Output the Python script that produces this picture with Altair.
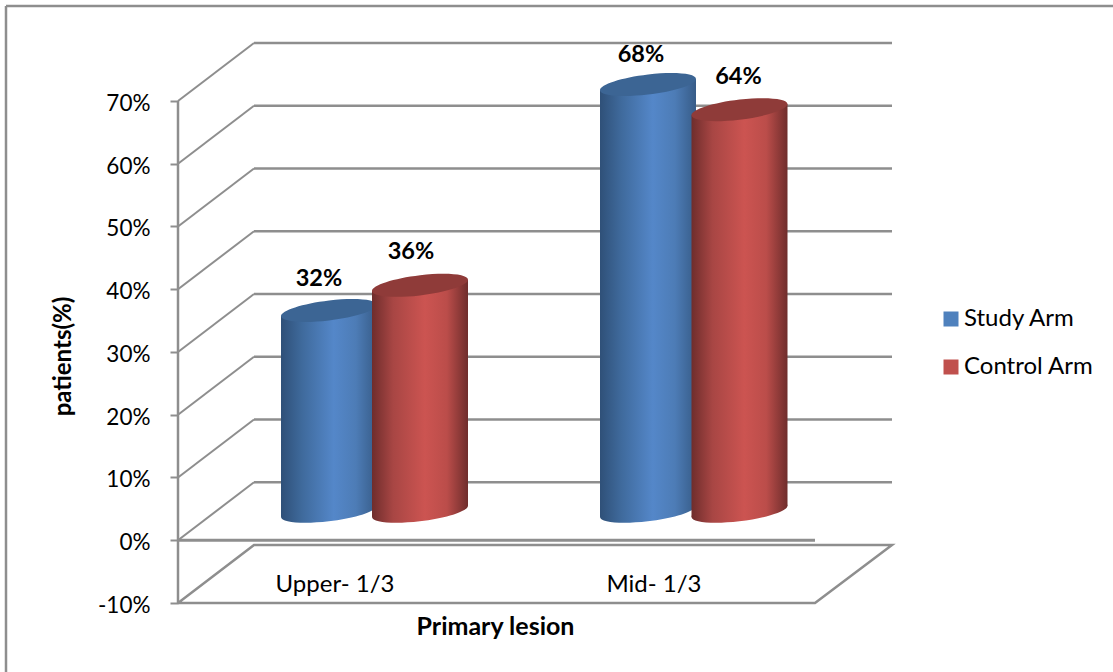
import altair as alt
import pandas as pd

# Values shown on the chart
groups = ["Upper- 1/3", "Mid- 1/3"]
series = ["Study Arm", "Control Arm"]
study_values = [32, 68]
control_values = [36, 64]
tick_values = [-10, 0, 10, 20, 30, 40, 50, 60, 70]
grid_levels = [0, 10, 20, 30, 40, 50, 60, 70]

# Oblique projection of the box: depth in x units and in percent units
DEPTH_X = 76
DEPTH_Y = 9.24
FLOOR_W = 637
PLOT_W = 714
PLOT_H = 560
PX_PER_PCT = 6.275

# Cylinder layout, in x units
CYL_R = 48
CYL_CENTERS = {"Study Arm": [151, 470], "Control Arm": [242, 561.5]}
TILT = 5.6 / PX_PER_PCT
BASE = DEPTH_Y / 2
LABEL_NUDGE_X = {"Study Arm": [-10, -7], "Control Arm": [-9, -1]}
LABEL_NUDGE_PX = {"Study Arm": [31.5, 29.5], "Control Arm": [33.5, 33]}
GROUP_LABEL_X = [157, 476]

FONT = "Lato"
GREY = "#8e8e8e"
ELLIPSE = "M-1,0.117 A1.004,0.207,-7,1,1,1,-0.117 A1.004,0.207,-7,1,1,-1,0.117 Z"

colors = {
    "Study Arm": {"flat": "#4f81bd", "top": "#3c6594",
                  "stops": ["#2f5078", "#3f6a9c", "#5487c9", "#4d7cb6", "#375c88"]},
    "Control Arm": {"flat": "#c0504d", "top": "#8f3b39",
                    "stops": ["#6f2d2c", "#a84644", "#cc5451", "#bb4d4a", "#6f2d2c"]},
}


def shaded(stops):
    offsets = [0, 0.22, 0.55, 0.78, 1]
    return alt.Gradient(
        gradient="linear",
        x1=0, x2=1, y1=0, y2=0,
        stops=[alt.GradientStop(color=c, offset=o) for c, o in zip(stops, offsets)],
    )


x_scale = alt.Scale(domain=[0, PLOT_W], nice=False, zero=False)
y_scale = alt.Scale(domain=[-10, 70 + DEPTH_Y], nice=False, zero=False)

# Shared axes: the percent ticks and both titles
x_axis = alt.Axis(
    title="Primary lesion", domain=False, ticks=False, labels=False, grid=False,
    titleFont=FONT, titleFontSize=25, titleFontWeight="bold", titleColor="#000",
    titleX=317, titleY=23, titleBaseline="middle",
)
y_axis = alt.Axis(
    values=tick_values, labelExpr="datum.value + '%'", grid=False, domain=False,
    tickColor=GREY, tickWidth=2, tickSize=8, labelPadding=20, labelOffset=2.5,
    labelFont=FONT, labelFontSize=22.5, labelColor="#000",
    title="patients(%)", titleFont=FONT, titleFontSize=24, titleFontWeight="bold",
    titleColor="#000", titleX=-103, titleY=313,
)
X = alt.X("x:Q", scale=x_scale, axis=x_axis)
Y = alt.Y("y:Q", scale=y_scale, axis=y_axis)

# Back wall lines and side wall obliques
h_rows, o_rows = [], []
for v in grid_levels:
    h_rows += [{"x": DEPTH_X, "y": v + DEPTH_Y, "k": v}, {"x": PLOT_W, "y": v + DEPTH_Y, "k": v}]
    o_rows += [{"x": 0, "y": v, "k": v}, {"x": DEPTH_X, "y": v + DEPTH_Y, "k": v}]
grid_h = alt.Chart(pd.DataFrame(h_rows)).mark_line(color=GREY, strokeWidth=2.5).encode(x=X, y=Y, detail="k:N")
grid_o = alt.Chart(pd.DataFrame(o_rows)).mark_line(color=GREY, strokeWidth=2).encode(x=X, y=Y, detail="k:N")

# Floor outline at -10 and the front zero line
floor = pd.DataFrame({
    "x": [0, DEPTH_X, PLOT_W, FLOOR_W, 0],
    "y": [-10, -10 + DEPTH_Y, -10 + DEPTH_Y, -10, -10],
    "o": [0, 1, 2, 3, 4],
})
floor_line = alt.Chart(floor).mark_line(color=GREY, strokeWidth=2.5).encode(x=X, y=Y, order="o:Q")
zero_line = (
    alt.Chart(pd.DataFrame({"x": [0, FLOOR_W], "y": [0, 0]}))
    .mark_line(color=GREY, strokeWidth=3)
    .encode(x=X, y=Y)
)
value_axis = (
    alt.Chart(pd.DataFrame({"x": [0, 0], "y": [-10, 70]}))
    .mark_line(color=GREY, strokeWidth=2.5)
    .encode(x=X, y=Y)
)


def cylinders(name, values):
    body_rows, cap_rows = [], []
    for i, (cx, v) in enumerate(zip(CYL_CENTERS[name], values)):
        top = v + BASE
        body_rows += [
            {"x": cx - CYL_R, "y": top - TILT, "y0": BASE - TILT, "k": i},
            {"x": cx + CYL_R, "y": top + TILT, "y0": BASE + TILT, "k": i},
        ]
        cap_rows.append({"x": cx, "y": top, "y0": BASE})
    bodies = pd.DataFrame(body_rows)
    caps = pd.DataFrame(cap_rows)
    fill = shaded(colors[name]["stops"])
    symbol = {"shape": ELLIPSE, "size": (2 * CYL_R) ** 2, "filled": True, "strokeWidth": 0, "opacity": 1}
    base = alt.Chart(caps).mark_point(color=fill, **symbol).encode(x=X, y=alt.Y("y0:Q", scale=y_scale, axis=y_axis))
    body = alt.Chart(bodies).mark_area(color=fill, orient="vertical", opacity=1).encode(
        x=X, y=Y, y2="y0:Q", detail="k:N"
    )
    cap = alt.Chart(caps).mark_point(color=colors[name]["top"], **symbol).encode(x=X, y=Y)
    return [base, body, cap]


# Value labels above each cylinder
label_rows = []
for name, values in zip(series, [study_values, control_values]):
    for i, v in enumerate(values):
        label_rows.append({
            "x": CYL_CENTERS[name][i] + LABEL_NUDGE_X[name][i],
            "y": v + BASE + LABEL_NUDGE_PX[name][i] / PX_PER_PCT,
            "t": f"{v}%",
        })
value_labels = (
    alt.Chart(pd.DataFrame(label_rows))
    .mark_text(font=FONT, fontSize=23.5, fontWeight="bold", color="#000")
    .encode(x=X, y=Y, text="t:N")
)

# Category names lying on the floor
group_labels = (
    alt.Chart(pd.DataFrame({"x": GROUP_LABEL_X, "y": [-7.1, -7.1], "t": groups}))
    .mark_text(font=FONT, fontSize=24, color="#000")
    .encode(x=X, y=Y, text="t:N")
)

# Legend swatches only; the shaded cylinders carry no colour encoding
legend_layer = (
    alt.Chart(pd.DataFrame({"x": [0, 0], "y": [0, 0], "s": series}))
    .mark_square(size=0)
    .encode(
        x=X, y=Y,
        color=alt.Color(
            "s:N",
            scale=alt.Scale(domain=series, range=[colors[s]["flat"] for s in series]),
            legend=alt.Legend(
                title=None, orient="none", legendX=761, legendY=264,
                symbolType="square", symbolSize=225, symbolStrokeWidth=0, symbolOpacity=1,
                labelFont=FONT, labelFontSize=24, labelColor="#000", labelOffset=1,
                rowPadding=24, padding=0,
            ),
        ),
    )
)

# Outer frame of the chart
frame_top = alt.Chart(pd.DataFrame({"a": [0]})).mark_rule(color=GREY, strokeWidth=2.5).encode(
    x=alt.value(-172), x2=alt.value(935), y=alt.value(-37)
)
frame_left = alt.Chart(pd.DataFrame({"a": [0]})).mark_rule(color=GREY, strokeWidth=2.5).encode(
    x=alt.value(-172), y=alt.value(-37), y2=alt.value(629)
)

layers = [frame_top, frame_left, grid_h, grid_o, floor_line, zero_line, value_axis]
layers += cylinders("Study Arm", study_values)
layers += cylinders("Control Arm", control_values)
layers += [value_labels, group_labels, legend_layer]

chart = (
    alt.layer(*layers)
    .properties(
        width=PLOT_W,
        height=PLOT_H,
        padding={"left": 178, "top": 43, "right": 221, "bottom": 69},
        autosize=alt.AutoSizeParams(type="none"),
        background="white",
    )
    .configure_view(stroke=None)
)

chart.save("out.html", embed_options={"renderer": "svg", "actions": False})
